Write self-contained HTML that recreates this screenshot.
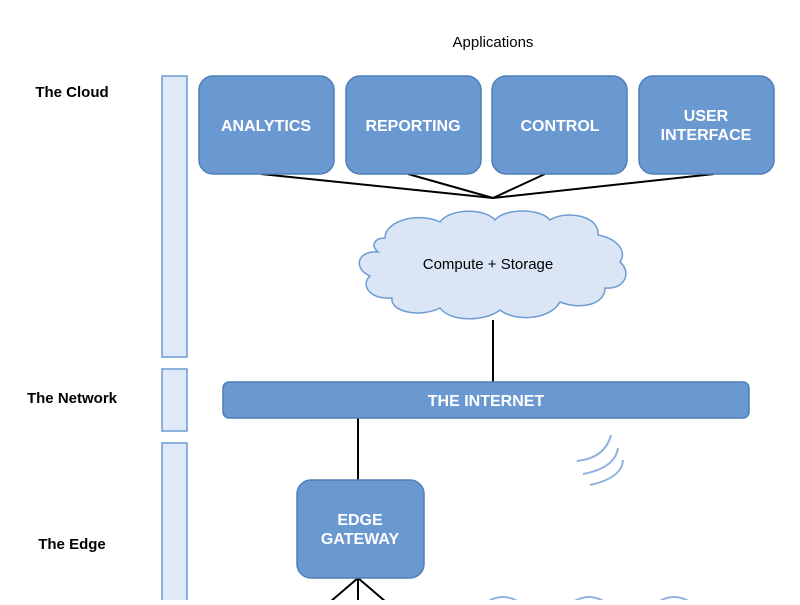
<!DOCTYPE html>
<html><head><style>
body{margin:0;width:800px;height:600px;overflow:hidden;background:#fff;font-family:"Liberation Sans",sans-serif;}
</style></head><body>
<svg width="800" height="600" xmlns="http://www.w3.org/2000/svg" font-family="Liberation Sans, sans-serif">
<text x="493" y="47" font-size="15" text-anchor="middle" fill="#000">Applications</text>
<g font-size="15" font-weight="bold" fill="#000">
<text x="72" y="97" text-anchor="middle">The Cloud</text>
<text x="72" y="403" text-anchor="middle">The Network</text>
<text x="72" y="549" text-anchor="middle">The Edge</text>
</g>
<g fill="#dfe9f7" stroke="#6d9bd3" stroke-width="1.5">
<rect x="162" y="76" width="25" height="281"/>
<rect x="162" y="369" width="25" height="62"/>
<rect x="162" y="443" width="25" height="170"/>
</g>
<g stroke="#000" stroke-width="2" fill="none">
<line x1="261" y1="174" x2="493" y2="198"/>
<line x1="408" y1="174" x2="493" y2="198"/>
<line x1="545" y1="174" x2="493" y2="198"/>
<line x1="714" y1="174" x2="493" y2="198"/>
<line x1="493" y1="320" x2="493" y2="382"/>
<line x1="358" y1="418" x2="358" y2="480"/>
<line x1="358" y1="578" x2="330" y2="602"/>
<line x1="358" y1="578" x2="358" y2="602"/>
<line x1="358" y1="578" x2="386" y2="602"/>
</g>
<g fill="#6a98d0" stroke="#4f7fb8" stroke-width="1.5">
<rect x="199" y="76" width="135" height="98" rx="14"/>
<rect x="346" y="76" width="135" height="98" rx="14"/>
<rect x="492" y="76" width="135" height="98" rx="14"/>
<rect x="639" y="76" width="135" height="98" rx="14"/>
<rect x="223" y="382" width="526" height="36" rx="6"/>
<rect x="297" y="480" width="127" height="98" rx="14"/>
</g>
<g fill="#fff" font-size="16" font-weight="bold" text-anchor="middle">
<text x="266" y="131">ANALYTICS</text>
<text x="413" y="131">REPORTING</text>
<text x="560" y="131">CONTROL</text>
<text x="706" y="121">USER</text>
<text x="706" y="140">INTERFACE</text>
<text x="486" y="406">THE INTERNET</text>
<text x="360" y="525">EDGE</text>
<text x="360" y="544">GATEWAY</text>
</g>
<path d="M385,238 C385,220 420,212 440,222 C450,208 485,208 495,220 C505,208 540,208 550,220 C565,210 600,215 598,235 C615,238 628,250 620,262 C632,272 625,290 605,288 C605,305 580,310 560,302 C550,320 515,322 500,310 C485,322 450,322 440,308 C420,318 390,312 392,298 C370,300 360,285 370,276 C352,268 358,250 378,252 C370,245 375,238 385,238 Z" fill="#dae6f6" stroke="#6d9bd3" stroke-width="1.5"/>
<text x="488" y="269" font-size="15" text-anchor="middle" fill="#000">Compute + Storage</text>
<g stroke="#8fb2df" stroke-width="2" fill="none">
<path d="M577,461 Q605,458 611,435"/>
<path d="M583,474 Q615,468 618,448"/>
<path d="M590,485 Q622,478 623,460"/>
<path d="M487,602 Q503,592 519,602"/>
<path d="M573,602 Q589,592 605,602"/>
<path d="M658,602 Q674,592 690,602"/>
</g>
</svg>
</body></html>
